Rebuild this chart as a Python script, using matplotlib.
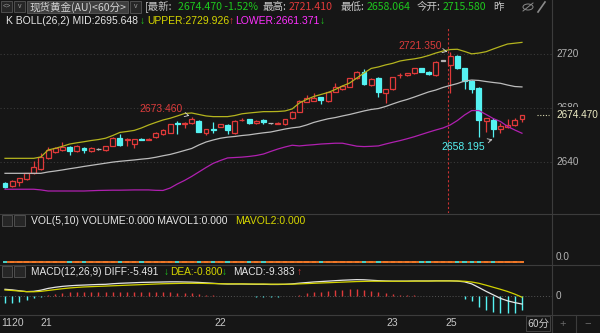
import matplotlib
matplotlib.use("Agg")
import matplotlib.pyplot as plt
import matplotlib.transforms as mtransforms
from matplotlib.lines import Line2D
from matplotlib.patches import Rectangle, Ellipse
import numpy as np

# 现货黄金 60-minute candles, visible window (11-20 .. 11-25)
opens = [2624.7, 2622.2, 2625.0, 2627.4, 2631.6, 2634.6, 2642.7, 2647.6, 2648.9, 2651.3,
         2648.1, 2650.6, 2648.1, 2649.6, 2648.9, 2651.9, 2658.0, 2656.3, 2653.1, 2657.0,
         2656.5, 2658.7, 2660.7, 2661.7, 2668.9, 2668.4, 2668.7, 2670.6, 2661.7, 2664.4,
         2666.1, 2667.4, 2661.3, 2670.8, 2671.6, 2668.7, 2671.1, 2668.7, 2668.5, 2667.9,
         2672.4, 2677.3, 2684.7, 2685.4, 2687.9, 2685.2, 2692.1, 2693.9, 2695.8, 2702.0,
         2706.4, 2697.0, 2702.4, 2691.3, 2693.9, 2704.1, 2704.4, 2705.7, 2709.4, 2706.9,
         2704.4, 2715.0, 2711.9, 2718.5, 2709.4, 2700.0, 2694.6, 2670.6, 2671.1, 2664.2,
         2665.7, 2667.4, 2671.6]
highs = [2625.5, 2626.5, 2628.5, 2632.0, 2640.7, 2646.7, 2651.3, 2651.0, 2654.8, 2652.0,
         2652.5, 2651.0, 2651.0, 2650.0, 2652.0, 2658.5, 2660.7, 2657.5, 2657.3, 2658.0,
         2657.5, 2662.0, 2664.2, 2668.3, 2670.6, 2669.3, 2673.46, 2671.0, 2664.6, 2669.9,
         2668.3, 2667.8, 2670.8, 2672.5, 2672.0, 2670.8, 2671.5, 2669.0, 2669.3, 2672.0,
         2677.7, 2685.8, 2689.6, 2691.1, 2688.3, 2692.0, 2698.5, 2697.0, 2702.4, 2707.4,
         2708.7, 2702.0, 2702.8, 2694.3, 2703.1, 2705.8, 2706.1, 2709.8, 2709.8, 2707.3,
         2714.7, 2715.3, 2721.35, 2719.0, 2709.8, 2700.4, 2695.8, 2672.8, 2672.5, 2668.7,
         2671.9, 2672.8, 2675.0]
lows = [2620.5, 2621.5, 2622.2, 2627.0, 2631.0, 2634.0, 2642.0, 2647.0, 2648.5, 2645.2,
        2647.5, 2646.7, 2647.6, 2649.2, 2648.5, 2651.5, 2652.0, 2652.1, 2650.4, 2656.0,
        2656.0, 2658.0, 2660.2, 2661.3, 2660.5, 2665.2, 2668.3, 2662.0, 2660.0, 2661.5,
        2665.7, 2660.7, 2661.0, 2670.0, 2667.8, 2668.3, 2668.0, 2668.4, 2668.2, 2667.5,
        2672.0, 2677.0, 2684.3, 2685.0, 2683.0, 2684.8, 2691.7, 2693.5, 2695.4, 2701.6,
        2697.2, 2696.6, 2688.4, 2683.5, 2693.5, 2702.0, 2704.0, 2705.3, 2706.5, 2704.6,
        2704.0, 2714.7, 2691.3, 2709.0, 2693.9, 2691.1, 2658.7, 2662.4, 2658.195, 2661.3,
        2665.3, 2667.0, 2669.9]
closes = [2621.7, 2625.9, 2627.9, 2631.6, 2636.5, 2643.5, 2648.9, 2650.6, 2651.3, 2648.1,
          2651.9, 2648.9, 2650.4, 2649.6, 2651.6, 2658.0, 2652.6, 2657.0, 2656.8, 2656.6,
          2657.1, 2661.7, 2663.7, 2667.9, 2668.5, 2669.0, 2671.6, 2662.4, 2664.2, 2664.0,
          2667.9, 2663.7, 2670.4, 2671.3, 2668.7, 2670.4, 2669.4, 2668.7, 2669.0, 2671.6,
          2677.3, 2685.4, 2687.2, 2687.2, 2685.9, 2691.6, 2695.8, 2696.5, 2702.0, 2706.4,
          2697.6, 2701.5, 2692.1, 2693.9, 2702.7, 2704.7, 2705.7, 2709.4, 2706.9, 2705.0,
          2714.3, 2715.0, 2718.5, 2709.4, 2700.2, 2693.9, 2671.1, 2672.4, 2664.2, 2666.7,
          2667.4, 2671.1, 2674.47]

# BOLL(26,2)
boll_upper = [2642.7, 2642.7, 2642.7, 2642.7, 2642.7, 2643.7, 2648.9, 2650.1, 2651.6, 2653.3,
              2654.2, 2655.0, 2655.9, 2656.6, 2657.6, 2659.6, 2661.9, 2662.6, 2663.4, 2665.2,
              2667.4, 2669.3, 2671.1, 2672.4, 2674.1, 2675.9, 2676.3, 2675.2, 2674.1, 2673.6,
              2673.6, 2673.6, 2674.4, 2675.7, 2676.3, 2676.8, 2677.3, 2677.3, 2677.4, 2677.8,
              2679.3, 2683.7, 2686.3, 2688.5, 2690.0, 2691.5, 2693.7, 2696.3, 2698.5, 2702.2,
              2705.9, 2709.3, 2710.4, 2711.9, 2713.1, 2714.8, 2715.7, 2716.4, 2717.4, 2718.9,
              2720.7, 2722.2, 2723.3, 2723.5, 2721.9, 2720.1, 2720.7, 2721.7, 2723.7, 2725.6,
              2727.4, 2728.0, 2728.6]
boll_mid = [2631.6, 2631.6, 2631.6, 2631.6, 2631.6, 2631.6, 2632.6, 2633.3, 2634.1, 2635.0,
            2635.8, 2636.7, 2637.5, 2638.3, 2639.1, 2639.9, 2640.5, 2641.0, 2641.5, 2642.1,
            2642.6, 2643.5, 2644.6, 2645.6, 2647.0, 2648.5, 2650.0, 2652.6, 2654.8, 2656.3,
            2657.6, 2658.4, 2658.9, 2659.6, 2660.1, 2660.9, 2661.6, 2662.2, 2663.3, 2664.4,
            2665.3, 2665.9, 2667.4, 2669.3, 2670.7, 2672.0, 2672.9, 2674.1, 2675.2, 2676.5,
            2677.8, 2678.9, 2679.6, 2681.1, 2683.0, 2684.8, 2686.3, 2688.1, 2690.0, 2691.9,
            2693.3, 2695.2, 2696.7, 2698.1, 2700.0, 2700.7, 2700.4, 2699.6, 2698.9, 2698.3,
            2697.0, 2695.9, 2695.6]
boll_lower = [2619.8, 2619.8, 2619.8, 2619.8, 2619.8, 2619.3, 2618.5, 2618.5, 2618.5, 2618.5,
              2618.5, 2618.5, 2618.7, 2618.9, 2619.0, 2619.1, 2619.1, 2619.2, 2619.3, 2619.3,
              2619.3, 2619.0, 2618.9, 2620.7, 2623.7, 2626.3, 2629.3, 2632.6, 2635.9, 2639.0,
              2641.1, 2643.0, 2643.3, 2643.6, 2644.1, 2644.8, 2645.9, 2647.8, 2649.6, 2651.1,
              2652.4, 2651.9, 2652.4, 2652.8, 2653.3, 2653.6, 2653.9, 2653.9, 2652.8, 2651.7,
              2651.4, 2651.6, 2651.9, 2653.3, 2654.6, 2655.8, 2657.2, 2658.7, 2660.4, 2662.1,
              2663.7, 2665.2, 2667.4, 2670.7, 2674.8, 2678.1, 2678.1, 2675.2, 2672.2, 2670.0,
              2666.3, 2663.7, 2661.3]

# MACD(12,26,9)
diff = [4.6, 4.2, 3.6, 3.0, 3.2, 4.0, 5.2, 6.0, 6.6, 7.0,
        7.3, 7.5, 7.7, 7.9, 8.0, 8.4, 8.7, 8.9, 9.1, 9.3,
        9.4, 9.5, 9.6, 9.7, 9.7, 9.6, 9.5, 9.3, 9.0, 8.7,
        8.4, 8.2, 8.2, 8.2, 8.1, 8.0, 8.0, 7.9, 7.9, 8.0,
        8.3, 8.8, 9.2, 9.6, 9.9, 10.2, 10.5, 10.8, 11.0, 11.2,
        11.1, 10.8, 10.5, 10.3, 10.2, 10.2, 10.2, 10.3, 10.3, 10.3,
        10.4, 10.4, 10.4, 10.2, 9.7, 8.3, 5.8, 3.2, 0.8, -1.6,
        -3.3, -4.5, -5.491]
dea = [4.1, 3.8, 3.4, 3.0, 2.9, 3.2, 3.8, 4.4, 5.0, 5.5,
       5.9, 6.2, 6.4, 6.6, 6.8, 7.0, 7.2, 7.4, 7.6, 7.8,
       8.0, 8.2, 8.4, 8.5, 8.6, 8.7, 8.7, 8.7, 8.6, 8.5,
       8.4, 8.3, 8.3, 8.3, 8.2, 8.2, 8.2, 8.1, 8.1, 8.1,
       8.1, 8.3, 8.5, 8.7, 8.9, 9.1, 9.3, 9.5, 9.7, 9.9,
       10.0, 10.1, 10.1, 10.1, 10.1, 10.1, 10.1, 10.2, 10.2, 10.2,
       10.3, 10.3, 10.3, 10.3, 10.1, 9.6, 8.7, 7.4, 6.0, 4.6,
       3.1, 1.3, -0.8]
macd_bar = [-5.0, -4.6, -3.9, -2.7, -1.6, -0.5, 1.0, 1.6, 2.2, 2.5,
            2.6, 2.8, 2.8, 2.8, 2.7, 2.8, 3.0, 3.0, 3.0, 3.0,
            2.9, 2.8, 2.7, 2.6, 2.4, 2.1, 1.8, 1.4, 1.0, 0.6,
            0.3, 0.1, -0.1, -0.2, -0.3, -0.4, -0.5, -0.5, -0.5, -0.3,
            0.2, 1.0, 1.8, 2.5, 3.0, 3.4, 3.8, 4.2, 4.5, 4.6,
            4.2, 3.4, 2.6, 1.9, 1.4, 1.0, 0.7, 0.5, 0.3, 0.2,
            0.2, 0.1, 0.05, -0.3, -2.0, -3.5, -7.3, -9.6, -10.7, -11.4,
            -11.9, -11.4, -9.383]
volume = [0.0] * len(closes)

day_labels = ["1120", "21", "22", "23", "25"]
day_pos = [1.1, 5.7, 30.0, 54.0, 62.1]
grid_prices = [2640, 2680, 2720]
right_labels = ["2640", "2680", "2720"]

W, H, DPI = 600, 333, 100
BG = "#161616"
SEP = "#3c3c3c"
TXT = "#c8c8c8"
RED = "#e03a3a"
CYAN = "#55f2f2"
GREEN = "#1ec81e"
YEL = "#d6d600"
MAG = "#ff30ff"
SANS = ["Liberation Sans", "DejaVu Sans"]
CJK = ["Noto Sans CJK SC", "DejaVu Sans"]
plt.rcParams["font.family"] = SANS

X0, STEP, XR = 5.0, 7.18, 552.0   # candle 0 centre, spacing, right edge (px)
n = len(closes)
idx = np.arange(n)

fig = plt.figure(figsize=(W / DPI, H / DPI), dpi=DPI, facecolor=BG)


def px_axes(x0, y0, x1, y1):
    ax = fig.add_axes([x0 / W, 1 - y1 / H, (x1 - x0) / W, (y1 - y0) / H])
    ax.set_axis_off()
    ax.set_xlim(-X0 / STEP, (XR - X0) / STEP)
    return ax


def ftext(x, y, s, color=TXT, size=7.5, family=SANS, **kw):
    return fig.text(x / W, 1 - y / H, s, color=color, fontsize=size,
                    family=family, va="center", ha=kw.pop("ha", "left"), **kw)


def fline(xs, ys, color=SEP, lw=0.8, **kw):
    fig.add_artist(Line2D([x / W for x in xs], [1 - y / H for y in ys],
                          transform=fig.transFigure, color=color, lw=lw, **kw))


def fbox(x0, y0, x1, y1, face="#262626", edge="#555555"):
    fig.add_artist(Rectangle((x0 / W, 1 - y1 / H), (x1 - x0) / W, (y1 - y0) / H,
                             transform=fig.transFigure, facecolor=face,
                             edgecolor=edge, lw=0.6))


# ---- main K panel ----
ax = px_axes(0, 27, XR, 213)
ax.set_ylim(2602.2, 2740.0)
for g in grid_prices:
    ax.axhline(g, color="#3a3a3a", ls=(0, (1, 2)), lw=0.8, zorder=0)
ax.axvline(int(np.argmax(highs)) - 0.25, color="#c83232", ls=(0, (2, 2)), lw=0.8, zorder=1)

cols, faces = [], []
for o, c in zip(opens, closes):
    if c > o:
        cols.append(RED); faces.append(BG)
    elif c < o:
        cols.append(CYAN); faces.append(CYAN)
    else:
        cols.append("#b4b4b4"); faces.append("#b4b4b4")
ax.vlines(idx, lows, highs, colors=cols, lw=0.9, zorder=2)
body = np.maximum(np.abs(np.subtract(closes, opens)), 0.35)
ax.bar(idx, body, bottom=np.minimum(opens, closes), width=0.68,
       color=faces, edgecolor=cols, lw=0.9, zorder=3)

ax.plot(idx, boll_upper, color="#b4b41e", lw=0.9, zorder=4)
ax.plot(idx, boll_mid, color="#bcbcbc", lw=0.9, zorder=4)
ax.plot(idx, boll_lower, color="#b020b0", lw=0.9, zorder=4)

arrow = dict(arrowstyle="->", color="#cfcfcf", lw=0.6, shrinkA=1, shrinkB=1)
ax.annotate("2673.460", xy=(25.9, 2674.0), xytext=(24.8, 2679.3), color="#dc3c3c",
            fontsize=7.5, ha="right", va="center", arrowprops=arrow, zorder=6)
ax.annotate("2721.350", xy=(61.8, 2721.6), xytext=(60.9, 2725.6), color="#dc3c3c",
            fontsize=7.5, ha="right", va="center", arrowprops=arrow, zorder=6)
ax.annotate("2658.195", xy=(68.1, 2656.9), xytext=(66.9, 2651.1), color=CYAN,
            fontsize=7.5, ha="right", va="center", arrowprops=arrow, zorder=6)
ax.axhline(closes[-1], xmin=537 / XR, xmax=549 / XR, color="#d8d8b0",
           ls=(0, (1, 1.5)), lw=0.8)

ry = mtransforms.blended_transform_factory(fig.transFigure, ax.transData)
for g, lab in zip(grid_prices, right_labels):
    ax.text(556 / W, g, lab, transform=ry, color="#b4b4b4", fontsize=7.2, va="center")
ax.text(556 / W, closes[-1], f"{closes[-1]:.3f}", transform=ry, color="#ecebc4",
        fontsize=7.2, va="center",
        bbox=dict(boxstyle="square,pad=0.3", facecolor=BG, edgecolor="none"))

# ---- VOL panel ----
axv = px_axes(0, 213, XR, 264)
axv.set_ylim(-0.05, 1.0)
axv.plot(idx, volume, color="#f07828", lw=1.3)
axv.hlines(volume, idx - 0.3, idx + 0.3,
           colors=["#46d2c8" if c == CYAN else "#f07828" for c in cols], lw=1.4)
ftext(556, 257, "0.0", color="#b4b4b4", size=7.2)

# ---- MACD panel ----
axm = px_axes(0, 264, XR, 314)
axm.set_ylim(-12.3, 21.9)
axm.axhline(0, color="#555555", ls=(0, (1, 2)), lw=0.7)
axm.vlines(idx, 0, macd_bar, colors=[RED if v > 0 else CYAN for v in macd_bar], lw=1.0)
axm.plot(idx, diff, color="#e6e6e6", lw=0.9)
axm.plot(idx, dea, color="#d2d200", lw=0.9)
mty = mtransforms.blended_transform_factory(fig.transFigure, axm.transData)
axm.text(556 / W, 0, "0", transform=mty, color="#b4b4b4", fontsize=7.2, va="center")

# ---- time axis ----
axx = px_axes(0, 314, XR, 333)
axx.set_ylim(0, 1)
for p, lab in zip(day_pos, day_labels):
    axx.text(p, 0.55, lab, color=TXT, fontsize=7.5, ha="center", va="center")

# ---- frame lines ----
fline([0, W], [213.5, 213.5])
fline([0, W], [264.5, 264.5])
fline([0, W], [314.5, 314.5])
fline([551.5, 551.5], [0, H])
fline([575.5, 575.5], [314.5, H])
fbox(526, 316, 550, 331, face=BG, edge="#4a4a4a")
ftext(538, 323.5, "60分", size=7.5, family=CJK, ha="center")
ftext(563, 323.5, "+", color="#6a6a6a", size=8, ha="center")
ftext(588, 323.5, "−", color="#6a6a6a", size=8, ha="center")

# ---- header rows ----
for x0, x1, s in [(1, 12, "<>"), (14, 25, "v")]:
    fbox(x0, 1, x1, 12)
    ftext((x0 + x1) / 2, 6.5, s, color="#9a9a9a", size=5, ha="center")
fbox(27, 1, 128, 13, face="#3e3e3e", edge="#5a5a5a")
ftext(29, 7, "现货黄金(AU)<60分>", color="#d2d2d2", size=7.6, family=CJK)
fbox(130, 1, 141, 13)
ftext(135.5, 6.5, "v", color="#9a9a9a", size=5, ha="center")
for x, s, c in [(145, "[最新:", TXT), (178, "2674.470 -1.52%", GREEN),
                (263, "最高:", TXT), (289, "2721.410", RED),
                (341, "最低:", TXT), (367, "2658.064", GREEN),
                (417, "今开:", TXT), (443, "2715.580", GREEN), (493, "昨", TXT)]:
    ftext(x, 7, s, color=c, size=7.6, family=CJK)
fig.add_artist(Ellipse((528 / W, 1 - 7 / H), 10 / W, 6 / H, transform=fig.transFigure,
                       facecolor="none", edgecolor="#8a8a8a", lw=0.7))
fline([523, 533], [11, 3], color="#8a8a8a", lw=0.7)
fline([538, 545], [12, 2], color="#8a8a8a", lw=1.2)

for x, s, c in [(6, "K BOLL(26,2) MID:2695.648", "#e6e6e6"), (140, "↓", GREEN),
                (147, "UPPER:2729.926", YEL), (229, "↑", RED),
                (235, "LOWER:2661.371", MAG), (320, "↓", GREEN)]:
    ftext(x, 21, s, color=c)

for x0, x1 in [(2, 12), (14, 25)]:
    fbox(x0, 215, x1, 226)
    fbox(x0, 266, x1, 277)
ftext(31, 221, "VOL(5,10) VOLUME:0.000 MAVOL1:0.000", color="#e6e6e6")
ftext(235, 221, "MAVOL2:0.000", color=YEL)
for x, s, c in [(31, "MACD(12,26,9) DIFF:-5.491", "#e6e6e6"), (164, "↓", GREEN),
                (170, "DEA:-0.800", YEL), (222, "↓", GREEN),
                (233, "MACD:-9.383", "#e6e6e6"), (297, "↑", RED)]:
    ftext(x, 272, s, color=c, size=7.3)

fig.savefig("out.png", dpi=DPI, facecolor=BG)
